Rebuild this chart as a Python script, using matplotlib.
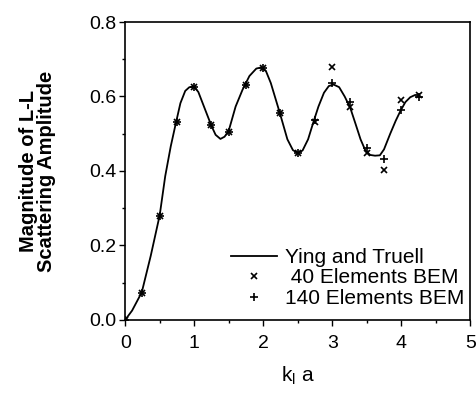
import numpy as np
import matplotlib.pyplot as plt
from matplotlib.ticker import MultipleLocator

plt.rcParams['font.family'] = ['Liberation Sans', 'DejaVu Sans']

# Ying and Truell curve
curve_x = [0.0, 0.10, 0.24, 0.37, 0.50, 0.58, 0.66, 0.73, 0.80, 0.87, 0.93, 1.00,
           1.06, 1.16, 1.25, 1.31, 1.38, 1.44, 1.50, 1.60, 1.70, 1.80, 1.90, 1.97,
           2.04, 2.11, 2.24, 2.35, 2.43, 2.50, 2.57, 2.65, 2.73, 2.80, 2.88, 2.95,
           3.02, 3.10, 3.18, 3.26, 3.34, 3.41, 3.48, 3.55, 3.62, 3.69, 3.75, 3.84,
           3.92, 3.99, 4.06, 4.13, 4.20, 4.25]
curve_y = [0.0, 0.025, 0.074, 0.172, 0.281, 0.386, 0.466, 0.525, 0.582, 0.615, 0.625, 0.626,
           0.612, 0.564, 0.521, 0.497, 0.486, 0.492, 0.508, 0.573, 0.618, 0.655, 0.675, 0.678,
           0.668, 0.636, 0.556, 0.485, 0.456, 0.448, 0.455, 0.485, 0.533, 0.573, 0.610, 0.628,
           0.632, 0.625, 0.600, 0.570, 0.525, 0.485, 0.455, 0.443, 0.441, 0.442, 0.458, 0.500,
           0.535, 0.562, 0.585, 0.598, 0.604, 0.604]

# BEM results
bem_x = [0.0, 0.25, 0.5, 0.75, 1.0, 1.25, 1.5, 1.75, 2.0, 2.25, 2.5, 2.75,
         3.0, 3.25, 3.5, 3.75, 4.0, 4.25]
bem40 = [0.0, 0.072, 0.28, 0.531, 0.626, 0.524, 0.505, 0.631, 0.677, 0.556, 0.448, 0.531,
         0.680, 0.571, 0.449, 0.402, 0.591, 0.604]
bem140 = [0.0, 0.072, 0.28, 0.531, 0.626, 0.524, 0.505, 0.631, 0.677, 0.556, 0.448, 0.538,
          0.637, 0.585, 0.461, 0.433, 0.564, 0.598]

fig = plt.figure(figsize=(4.76, 3.93), dpi=100)
ax = fig.add_axes([0.263, 0.186, 0.725, 0.758])

ax.plot(curve_x, curve_y, color='black', lw=1.3, label='Ying and Truell')
ax.plot(bem_x, bem40, ls='none', marker='x', ms=5, mew=1.2, color='black',
        label=' 40 Elements BEM')
ax.plot(bem_x, bem140, ls='none', marker='+', ms=6, mew=1.2, color='black',
        label='140 Elements BEM')

ax.set_xlim(0, 5)
ax.set_ylim(0, 0.8)
ax.xaxis.set_major_locator(MultipleLocator(1))
ax.xaxis.set_minor_locator(MultipleLocator(0.5))
ax.yaxis.set_major_locator(MultipleLocator(0.2))
ax.yaxis.set_minor_locator(MultipleLocator(0.1))
ax.yaxis.set_major_formatter(plt.FormatStrFormatter('%.1f'))
ax.tick_params(which='major', direction='out', length=4, width=1, labelsize=14)
ax.tick_params(which='minor', direction='out', length=2.5, width=1)
ax.tick_params(axis='x', which='major', pad=7)
ax.tick_params(axis='y', which='major', pad=2)
for s in ax.spines.values():
    s.set_linewidth(1.2)

ax.set_xlabel('k$_\\mathregular{l}$ a', fontsize=15, labelpad=9)
ax.set_ylabel('Magnitude of L-L\nScattering Amplitude', fontsize=14.5,
              fontweight='bold', labelpad=24, linespacing=0.95)

ax.legend(loc='lower right', bbox_to_anchor=(1.005, 0.015), frameon=False,
          fontsize=15, handlelength=2.2, handletextpad=0.4, labelspacing=0.08,
          borderaxespad=0.15, borderpad=0.2)

plt.savefig('out.png', dpi=100)
